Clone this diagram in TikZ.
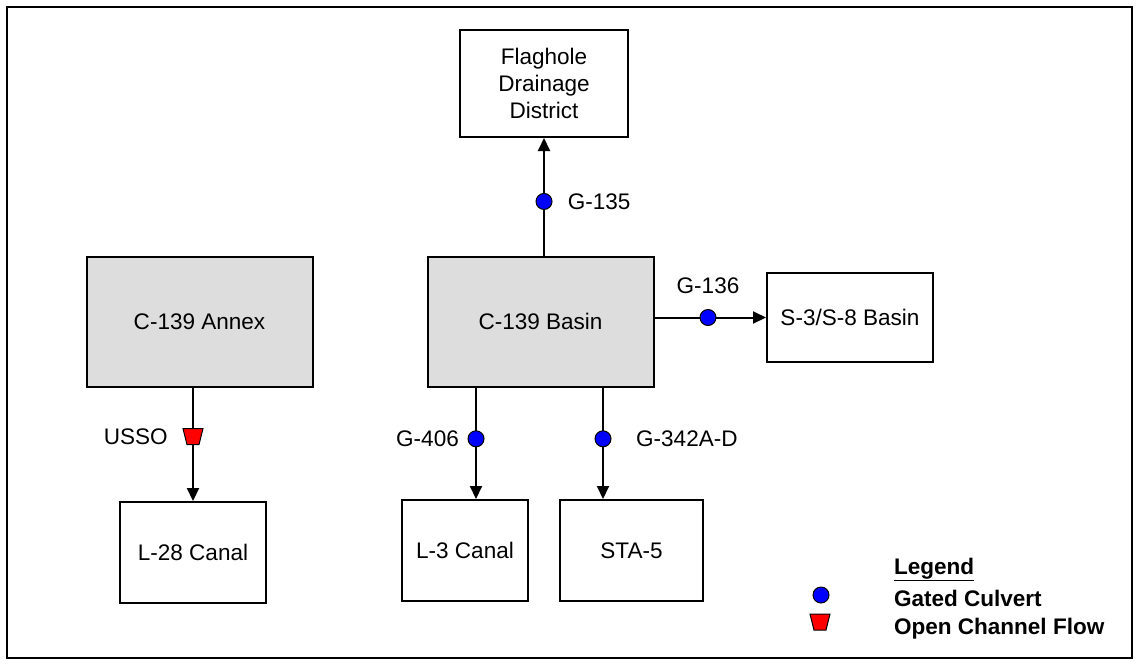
\documentclass[tikz,border=0pt]{standalone}
\usepackage{fontspec}
\setmainfont{Liberation Sans}
\usetikzlibrary{arrows.meta,positioning}
\definecolor{boxgray}{RGB}{221,221,221}
\tikzset{every picture/.style={line width=1.5pt}}
\newcommand\openmark[1]{\filldraw[fill=red, line width=0.75pt] (#1.north west) -- (#1.north east) -- ([xshift=-3pt]#1.south east) -- ([xshift=3pt]#1.south west) -- cycle;}

\begin{document}
\begin{tikzpicture}[
            x=0.75pt,
            y=0.75pt,
            yscale=-1,
            xscale=1,
            every node/.style={font=\fontsize{16.9}{20}\selectfont},
            box/.style={draw, line width=1.5pt, inner sep=0.75pt, align=center},
            graybox/.style={box, fill=boxgray},
            flow/.style={line width=1.5pt, -{Triangle[length=9.75pt,width=9pt]}},
            culvert/.style={circle, draw, line width=0.75pt, fill=blue, inner sep=0pt, minimum size=12pt},
            openflow/.style={rectangle, inner sep=0pt, minimum width=13.5pt, minimum height=10.5pt},
            lbl/.style={inner sep=0.75pt},
            line width=1.5pt
        ]
            \useasboundingbox (0,0) rectangle (1139,665);
            \draw (7,7) rectangle (1132,658);

            % basins and receiving waters
            \node[box, minimum width=126pt, minimum height=80.25pt] (flag) at (544,83.5) {Flaghole\\Drainage\\District};
            \node[graybox, minimum width=169.5pt, minimum height=97.5pt] (basin) at (540.5,321.5) {C-139 Basin};
            \node[graybox, minimum width=169.5pt, minimum height=97.5pt] (annex) at (199.5,322) {C-139 Annex};
            \node[box, minimum width=124.5pt, minimum height=66.75pt] (s38) at (850,317.5) {S-3/S-8 Basin};
            \node[box, minimum width=109.5pt, minimum height=75.75pt] (l28) at (193,552.5) {L-28 Canal};
            \node[box, minimum width=94.5pt, minimum height=75.75pt] (l3) at (465,550.5) {L-3 Canal};
            \node[box, minimum width=107.25pt, minimum height=75.75pt] (sta5) at (631.5,550.5) {STA-5};

            \coordinate (x406) at (476,0);
            \coordinate (x342) at (603,0);

            % structures
            \draw[flow] (flag.south |- basin.north) -- node[culvert, pos=0.46] (g135) {} (flag.south);
            \draw[flow] (basin.east |- s38.west) -- node[culvert, pos=0.48] (g136) {} (s38.west);
            \draw[flow] (basin.south -| x406) -- node[culvert, pos=0.46] (g406) {} (l3.north -| x406);
            \draw[flow] (basin.south -| x342) -- node[culvert, pos=0.46] (g342) {} (sta5.north -| x342);
            \draw[flow] (annex.south -| l28.north) -- node[openflow, pos=0.43] (usso) {} (l28.north);
            \openmark{usso}

            \node[lbl, right=10pt of g135] {G-135};
            \node[lbl] at (708,286) {G-136};
            \node[lbl, left=5pt of g406] {G-406};
            \node[lbl, right=17pt of g342] {G-342A-D};
            \node[lbl, left=10pt of usso] {USSO};

            % legend
            \node[lbl, anchor=base west] (leg) at (892,574) {\textbf{\underline{Legend}}};
            \node[culvert] (legc) at (821,595) {};
            \node[lbl, anchor=base west] (legct) at (892,606) {\textbf{Gated Culvert}};
            \node[openflow] (lego) at (820,622) {};
            \openmark{lego}
            \node[lbl, anchor=base west] (legot) at (892,634) {\textbf{Open Channel Flow}};
        \end{tikzpicture}
\end{document}
